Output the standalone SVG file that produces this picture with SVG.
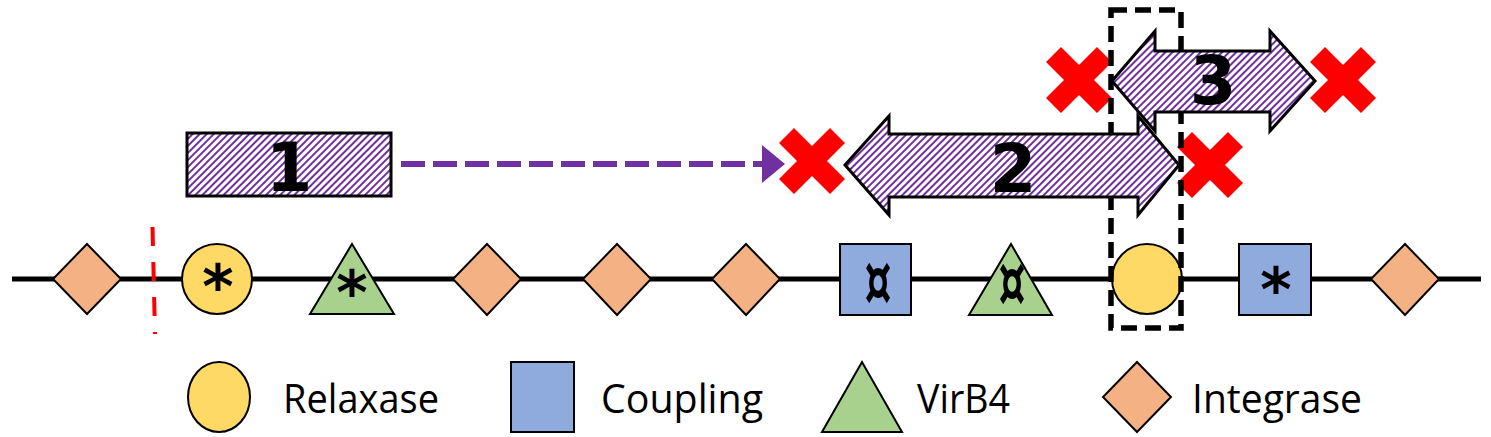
<svg xmlns="http://www.w3.org/2000/svg" width="1491" height="437" viewBox="0 0 1491 437">
<style>
.node{stroke:#000;stroke-width:2}
.rel{fill:#FFD966}
.cpl{fill:#8FAADC}
.vir{fill:#A9D18E}
.int{fill:#F4B183}
.sym{font-family:"DejaVu Sans",sans-serif;font-weight:bold;fill:#000;text-anchor:middle}
.num{font-family:"DejaVu Sans",sans-serif;font-weight:bold;fill:#000;text-anchor:middle;font-size:67px}
.leg{font-family:"Open Sans",sans-serif;font-size:41px;fill:#000}
.hatched{fill:url(#hatch);stroke:#000;stroke-width:3;stroke-linejoin:miter}
.x{fill:#FF0000}
</style>
<defs>
<pattern id="hatch" patternUnits="userSpaceOnUse" width="5" height="5" patternTransform="rotate(45)">
<rect x="0" y="0" width="5" height="5" fill="#fff"/>
<rect x="0" y="0" width="2" height="5" fill="#7030A0"/>
</pattern>
<path id="xmark" d="M-18,-33 L0,-15 L18,-33 L33,-18 L15,0 L33,18 L18,33 L0,15 L-18,33 L-33,18 L-15,0 L-33,-18 Z"/>
<marker id="ah" markerUnits="userSpaceOnUse" markerWidth="24" markerHeight="38" refX="0" refY="19" orient="auto">
<path d="M0,0 L23,19 L0,38 Z" fill="#7030A0"/>
</marker>
</defs>

<g id="backbone">
<line x1="12" y1="279" x2="1481" y2="279" stroke="#000" stroke-width="5"/>
</g>

<g id="int1"><polygon class="node int" points="87,244 121,279 87,314 53,279"/></g>
<g id="rel1"><circle class="node rel" cx="217" cy="279" r="35"/><text class="sym" x="218" y="308" font-size="60">*</text></g>
<g id="vir1"><polygon class="node vir" points="352,244 394,314 310,314"/><text class="sym" x="352" y="314" font-size="60">*</text></g>
<g id="int2"><polygon class="node int" points="487,244 521,279 487,315 453,279"/></g>
<g id="int3"><polygon class="node int" points="617,244 651,279 617,315 583,279"/></g>
<g id="int4"><polygon class="node int" points="746,244 780,279 746,315 712,279"/></g>
<g id="cpl1"><rect class="node cpl" x="840" y="244" width="71" height="71"/><text class="sym" x="878" y="305" font-size="72" textLength="27" lengthAdjust="spacingAndGlyphs">¤</text></g>
<g id="vir2"><polygon class="node vir" points="1011,244 1052,315 969,315"/><text class="sym" x="1012" y="306" font-size="72" textLength="27" lengthAdjust="spacingAndGlyphs">¤</text></g>
<g id="rel2"><circle class="node rel" cx="1147" cy="279" r="35"/></g>
<g id="cpl2"><rect class="node cpl" x="1239" y="244" width="72" height="71"/><text class="sym" x="1276" y="311" font-size="60">*</text></g>
<g id="int5"><polygon class="node int" points="1405,244 1439,279 1405,315 1371,279"/></g>

<g id="cut">
<line x1="152.5" y1="227" x2="155" y2="334" stroke="#FF0000" stroke-width="4" stroke-dasharray="19 16"/>
</g>

<g id="region1">
<rect class="hatched" x="187" y="133" width="204" height="63"/>
<text class="num" x="289" y="191">1</text>
</g>

<g id="connectors">
<line x1="401" y1="164" x2="762" y2="164" stroke="#7030A0" stroke-width="6" stroke-dasharray="24 8" marker-end="url(#ah)"/>
</g>

<g id="deletions">
<use href="#xmark" class="x" transform="translate(812,161)"/>
<use href="#xmark" class="x" transform="translate(1210,165)"/>
<use href="#xmark" class="x" transform="translate(1079,80)"/>
<use href="#xmark" class="x" transform="translate(1343,80)"/>
</g>

<g id="highlight">
<rect x="1111" y="10" width="70" height="318" fill="none" stroke="#000" stroke-width="5.5" stroke-dasharray="16 8"/>
</g>

<g id="region2">
<polygon class="hatched" points="845,165 889,116 889,134 1138,134 1138,116 1179,165 1138,215 1138,197 889,197 889,215"/>
<text class="num" x="1013" y="192">2</text>
</g>

<g id="region3">
<polygon class="hatched" points="1112,81 1155,31 1155,51 1270,51 1270,31 1315,81 1270,131 1270,112 1155,112 1155,131"/>
<text class="num" x="1213" y="104">3</text>
</g>

<g id="legend">
<g id="leg-rel"><ellipse class="node rel" cx="219" cy="397" rx="31" ry="35"/><text class="leg" x="283" y="413" textLength="156" lengthAdjust="spacingAndGlyphs">Relaxase</text></g>
<g id="leg-cpl"><rect class="node cpl" x="511" y="362" width="63" height="70"/><text class="leg" x="601" y="413" textLength="162" lengthAdjust="spacingAndGlyphs">Coupling</text></g>
<g id="leg-vir"><polygon class="node vir" points="862,362 902,432 822,432"/><text class="leg" x="917" y="413" textLength="93" lengthAdjust="spacingAndGlyphs">VirB4</text></g>
<g id="leg-int"><polygon class="node int" points="1137,362 1171,397 1137,432 1103,397"/><text class="leg" x="1192" y="413" textLength="170" lengthAdjust="spacingAndGlyphs">Integrase</text></g>
</g>
</svg>
